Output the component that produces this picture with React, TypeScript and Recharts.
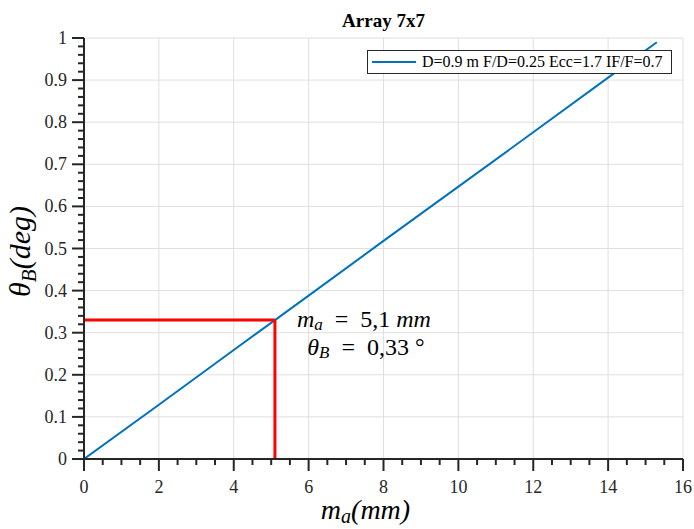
import React from "react";
import {
  LineChart,
  Line,
  XAxis,
  YAxis,
  CartesianGrid,
  ReferenceLine,
  ReferenceDot,
  Label,
} from "recharts";

const chartTitle = "Array 7x7";
const seriesName = "D=0.9 m F/D=0.25 Ecc=1.7 IF/F=0.7";
const maValues = [0, 2, 4, 5.1, 6, 8, 10, 12, 14, 15.3];
const thetaValues = [0, 0.129, 0.259, 0.33, 0.388, 0.518, 0.647, 0.776, 0.906, 0.99];
const markerMa = 5.1;
const markerTheta = 0.33;
const xMajorTicks = [0, 2, 4, 6, 8, 10, 12, 14, 16];
const xAllTicks = [
  0, 0.5, 1, 1.5, 2, 2.5, 3, 3.5, 4, 4.5, 5, 5.5, 6, 6.5, 7, 7.5, 8, 8.5, 9, 9.5, 10,
  10.5, 11, 11.5, 12, 12.5, 13, 13.5, 14, 14.5, 15, 15.5, 16,
];
const yMajorTicks = [0, 0.1, 0.2, 0.3, 0.4, 0.5, 0.6, 0.7, 0.8, 0.9, 1];
const yAllTicks = [
  0, 0.02, 0.04, 0.06, 0.08, 0.1, 0.12, 0.14, 0.16, 0.18, 0.2, 0.22, 0.24, 0.26, 0.28,
  0.3, 0.32, 0.34, 0.36, 0.38, 0.4, 0.42, 0.44, 0.46, 0.48, 0.5, 0.52, 0.54, 0.56, 0.58,
  0.6, 0.62, 0.64, 0.66, 0.68, 0.7, 0.72, 0.74, 0.76, 0.78, 0.8, 0.82, 0.84, 0.86, 0.88,
  0.9, 0.92, 0.94, 0.96, 0.98, 1,
];

const data = maValues.map((x, i) => ({ x, y: thetaValues[i] }));

const BLUE = "#0072BD";
const INK = "#262626";
const GRID = "#dfdfdf";
const SERIF = "'Liberation Serif', 'Times New Roman', serif";
const W = 694;
const H = 529;
const NB = "\u00a0";

const isMajor = (v: number, majors: number[]) =>
  majors.some((m) => Math.abs(m - v) < 1e-9);

const XTick = (props: any) => {
  const { x, y, payload } = props;
  const major = isMajor(payload.value, xMajorTicks);
  return (
    <g>
      <line x1={x} x2={x} y1={y} y2={y + (major ? 12 : 6)} stroke={INK} strokeWidth={2} />
      {major && (
        <text x={x} y={y + 34} textAnchor="middle" fontFamily={SERIF} fontSize={18} fill={INK}>
          {payload.value}
        </text>
      )}
    </g>
  );
};

const YTick = (props: any) => {
  const { x, y, payload } = props;
  const major = isMajor(payload.value, yMajorTicks);
  return (
    <g>
      <line x1={x - (major ? 12 : 6)} x2={x} y1={y} y2={y} stroke={INK} strokeWidth={2} />
      {major && (
        <text x={x - 17} y={y + 6} textAnchor="end" fontFamily={SERIF} fontSize={18} fill={INK}>
          {payload.value}
        </text>
      )}
    </g>
  );
};

const XLabel = (props: any) => {
  const vb = props.viewBox;
  const cx = vb.x + vb.width / 2 - 18;
  const by = vb.y + 60;
  return (
    <text x={cx} y={by} textAnchor="middle" fontFamily={SERIF} fontStyle="italic" fontSize={28} fill="#000">
      m
      <tspan fontSize={20} dy={4}>a</tspan>
      <tspan dy={-4}>(mm)</tspan>
    </text>
  );
};

const YLabel = (props: any) => {
  const vb = props.viewBox;
  const cx = 30;
  const cy = vb.y + vb.height / 2 + 3;
  return (
    <text
      x={cx}
      y={cy}
      transform={`rotate(-90 ${cx} ${cy})`}
      textAnchor="middle"
      fontFamily={SERIF}
      fontStyle="italic"
      fontSize={30}
      fill="#000"
    >
      θ
      <tspan fontSize={21} dy={6}>B</tspan>
      <tspan dy={-6}>(deg)</tspan>
    </text>
  );
};

const Annotation = (props: any) => {
  const vb = props.viewBox;
  const px = vb.x;
  const py = vb.y;
  return (
    <g fontFamily={SERIF} fontSize={24} fill="#000">
      <text x={px + 89} y={py + 7} textAnchor="middle">
        <tspan fontStyle="italic">m</tspan>
        <tspan fontStyle="italic" fontSize={17} dy={3}>a</tspan>
        <tspan dy={-3}>{`${NB}${NB}=${NB}${NB}5,1${NB}`}</tspan>
        <tspan fontStyle="italic">mm</tspan>
      </text>
      <text x={px + 91} y={py + 35} textAnchor="middle">
        <tspan fontStyle="italic">θ</tspan>
        <tspan fontStyle="italic" fontSize={17} dy={3}>B</tspan>
        <tspan dy={-3}>{`${NB}${NB}=${NB}${NB}0,33${NB}°`}</tspan>
      </text>
    </g>
  );
};

const vGen = (args: any) => {
  const ax = args?.xAxis;
  if (ax && typeof ax.scale === "function") return xMajorTicks.map((v) => ax.scale(v));
  const o = args.offset;
  return xMajorTicks.map((v) => o.left + (v / 16) * o.width);
};
const hGen = (args: any) => {
  const ax = args?.yAxis;
  if (ax && typeof ax.scale === "function") return yMajorTicks.map((v) => ax.scale(v));
  const o = args.offset;
  return yMajorTicks.map((v) => o.top + (1 - v) * o.height);
};

export default function App() {
  return (
    <div style={{ position: "absolute", left: 0, top: 0, width: W, height: H, background: "#fff" }}>
      <LineChart
        width={W}
        height={H}
        data={data}
        margin={{ top: 38, right: 11, left: 0, bottom: 0 }}
      >
        <CartesianGrid
          stroke={GRID}
          strokeWidth={1}
          verticalCoordinatesGenerator={vGen}
          horizontalCoordinatesGenerator={hGen}
        />
        <XAxis
          dataKey="x"
          type="number"
          domain={[0, 16]}
          ticks={xAllTicks}
          interval={0}
          tickLine={false}
          tickSize={0}
          tickMargin={0}
          tick={<XTick />}
          height={70}
          axisLine={{ stroke: INK, strokeWidth: 2 }}
          allowDataOverflow
        >
          <Label content={<XLabel />} />
        </XAxis>
        <YAxis
          type="number"
          domain={[0, 1]}
          ticks={yAllTicks}
          interval={0}
          tickLine={false}
          tickSize={0}
          tickMargin={0}
          tick={<YTick />}
          width={84}
          axisLine={{ stroke: INK, strokeWidth: 2 }}
          allowDataOverflow
        >
          <Label content={<YLabel />} />
        </YAxis>
        <Line
          type="linear"
          dataKey="y"
          name={seriesName}
          stroke={BLUE}
          strokeWidth={2}
          dot={false}
          isAnimationActive={false}
        />
        <ReferenceLine
          segment={[
            { x: 0, y: markerTheta },
            { x: markerMa, y: markerTheta },
          ]}
          stroke="#ff0000"
          strokeWidth={3}
        />
        <ReferenceLine
          segment={[
            { x: markerMa, y: markerTheta },
            { x: markerMa, y: 0 },
          ]}
          stroke="#ff0000"
          strokeWidth={3}
        />
        <ReferenceDot
          x={markerMa}
          y={markerTheta}
          r={0}
          fill="none"
          stroke="none"
          label={<Annotation />}
        />
      </LineChart>
      <div
        style={{
          position: "absolute",
          left: 84,
          width: 599,
          top: 10,
          textAlign: "center",
          fontFamily: SERIF,
          fontWeight: "bold",
          fontSize: 19,
          color: "#000",
          lineHeight: "22px",
        }}
      >
        {chartTitle}
      </div>
      <div
        style={{
          position: "absolute",
          left: 367,
          top: 50,
          border: `1.5px solid ${INK}`,
          background: "#fff",
          display: "flex",
          alignItems: "center",
          boxSizing: "border-box",
          height: 24,
          padding: "0 8px 0 4px",
          fontFamily: SERIF,
          fontSize: 16,
          color: "#000",
          whiteSpace: "nowrap",
        }}
      >
        <span
          style={{ display: "inline-block", width: 44, height: 2, background: BLUE, marginRight: 6 }}
        />
        {seriesName}
      </div>
    </div>
  );
}
